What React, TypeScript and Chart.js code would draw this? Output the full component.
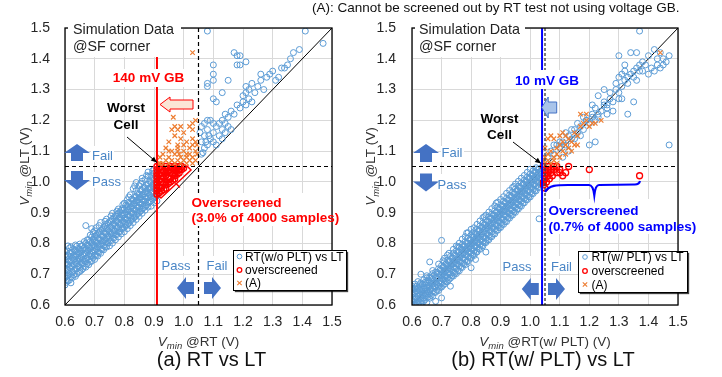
import React, { useEffect, useRef } from 'react';
import { Chart, registerables } from 'chart.js';

Chart.register(...registerables);

const FONT = '"Liberation Sans", Arial, Helvetica, sans-serif';

// ---------- axes ----------
const AXIS_MIN = 0.6;
const AXIS_MAX = 1.5;
const TICK_STEP = 0.1;
const PASS_LEVEL = 1.05; // LT pass/fail voltage
const LEFT_GB_X = 0.91; // 140 mV guard band
const RIGHT_GB_X = 1.04; // 10 mV guard band
const LEFT_GB_TOP = 1.41;

// ---------- (a) RT (w/o PLT) vs LT ----------
const leftBandColumns: [number, number[]][] = [
  [0.60, [0.665, 0.688, 0.702, 0.721, 0.733, 0.745, 0.762, 0.774]],
  [0.605, [0.674, 0.695, 0.716, 0.738, 0.757]],
  [0.61, [0.678, 0.697, 0.712, 0.731, 0.748, 0.761, 0.792]],
  [0.615, [0.681, 0.703, 0.722, 0.744, 0.768, 0.785]],
  [0.62, [0.672, 0.691, 0.719, 0.728, 0.741, 0.758, 0.771, 0.789]],
  [0.625, [0.689, 0.708, 0.727, 0.752, 0.772]],
  [0.63, [0.698, 0.712, 0.731, 0.749, 0.762, 0.781]],
  [0.635, [0.693, 0.717, 0.739, 0.758, 0.776, 0.795]],
  [0.64, [0.701, 0.718, 0.733, 0.744, 0.761, 0.772, 0.791]],
  [0.645, [0.706, 0.727, 0.748, 0.767, 0.784]],
  [0.65, [0.709, 0.722, 0.741, 0.752, 0.769, 0.781, 0.798]],
  [0.655, [0.713, 0.736, 0.757, 0.774, 0.792]],
  [0.66, [0.718, 0.733, 0.748, 0.762, 0.779, 0.793]],
  [0.665, [0.726, 0.744, 0.766, 0.785, 0.806]],
  [0.67, [0.723, 0.741, 0.752, 0.769, 0.781, 0.801, 0.858]],
  [0.675, [0.734, 0.753, 0.774, 0.795, 0.812]],
  [0.68, [0.731, 0.748, 0.762, 0.778, 0.791, 0.812]],
  [0.685, [0.741, 0.765, 0.784, 0.806, 0.827]],
  [0.69, [0.742, 0.758, 0.771, 0.789, 0.802, 0.821, 0.848]],
  [0.695, [0.753, 0.774, 0.795, 0.814, 0.836]],
  [0.70, [0.748, 0.762, 0.779, 0.792, 0.811, 0.823, 0.841]],
  [0.705, [0.761, 0.783, 0.804, 0.826, 0.851]],
  [0.71, [0.759, 0.772, 0.789, 0.802, 0.818, 0.832]],
  [0.715, [0.771, 0.794, 0.815, 0.836, 0.858]],
  [0.72, [0.768, 0.781, 0.798, 0.811, 0.829, 0.842, 0.868]],
  [0.725, [0.781, 0.803, 0.824, 0.846]],
  [0.73, [0.779, 0.792, 0.808, 0.822, 0.838, 0.851]],
  [0.735, [0.789, 0.812, 0.834, 0.856, 0.872]],
  [0.74, [0.788, 0.801, 0.819, 0.831, 0.848, 0.862, 0.879]],
  [0.745, [0.801, 0.823, 0.844, 0.866]],
  [0.75, [0.792, 0.809, 0.823, 0.838, 0.852, 0.871]],
  [0.755, [0.809, 0.831, 0.853, 0.874, 0.889]],
  [0.76, [0.801, 0.818, 0.832, 0.849, 0.861, 0.879, 0.898]],
  [0.765, [0.818, 0.841, 0.863, 0.884]],
  [0.77, [0.812, 0.828, 0.841, 0.858, 0.872, 0.889]],
  [0.775, [0.829, 0.851, 0.873, 0.894, 0.905]],
  [0.78, [0.821, 0.837, 0.852, 0.868, 0.881, 0.898, 0.912]],
  [0.785, [0.838, 0.861, 0.883, 0.903]],
  [0.79, [0.831, 0.848, 0.861, 0.878, 0.892, 0.908]],
  [0.795, [0.849, 0.871, 0.892, 0.914, 0.926]],
  [0.80, [0.838, 0.852, 0.869, 0.882, 0.899, 0.912, 0.931]],
  [0.805, [0.858, 0.879, 0.902, 0.924]],
  [0.81, [0.848, 0.861, 0.878, 0.892, 0.908, 0.921, 0.942]],
  [0.815, [0.866, 0.889, 0.911, 0.933, 0.951]],
  [0.82, [0.858, 0.872, 0.888, 0.901, 0.918, 0.932, 0.958]],
  [0.825, [0.878, 0.899, 0.922, 0.944]],
  [0.83, [0.868, 0.881, 0.898, 0.912, 0.928, 0.941, 0.978]],
  [0.835, [0.886, 0.908, 0.931, 0.952, 0.987]],
  [0.84, [0.878, 0.891, 0.908, 0.921, 0.938, 0.951, 0.972, 0.998]],
  [0.845, [0.897, 0.918, 0.941, 0.962]],
  [0.85, [0.888, 0.901, 0.918, 0.932, 0.948, 0.961, 0.988]],
  [0.855, [0.905, 0.928, 0.951, 0.973, 0.994]],
  [0.86, [0.898, 0.912, 0.928, 0.941, 0.958, 0.972, 1.002, 1.012]],
  [0.865, [0.916, 0.938, 0.961, 0.982]],
  [0.87, [0.908, 0.921, 0.938, 0.951, 0.968, 0.981, 1.008]],
  [0.875, [0.924, 0.947, 0.969, 0.991, 1.021]],
  [0.88, [0.918, 0.931, 0.948, 0.962, 0.978, 0.992, 1.018, 1.032]],
  [0.885, [0.935, 0.957, 0.979, 1.002]],
  [0.89, [0.921, 0.938, 0.952, 0.968, 0.982, 0.998, 1.021]],
  [0.895, [0.944, 0.966, 0.988, 1.011, 1.036]],
  [0.90, [0.932, 0.948, 0.961, 0.978, 0.992, 1.008, 1.028, 1.041]],
  [0.905, [0.952, 0.975, 0.996, 1.018]],
  [0.91, [0.938, 0.955, 0.968, 0.985, 0.998, 1.015]],
];

const leftUpperBlue: [number, number][] = [
  [1.06, 1.09], [1.07, 1.11], [1.06, 1.13], [1.08, 1.12], [1.07, 1.15], [1.09, 1.14],
  [1.08, 1.17], [1.10, 1.13], [1.10, 1.16], [1.11, 1.12], [1.11, 1.18], [1.12, 1.15],
  [1.12, 1.19], [1.13, 1.14], [1.13, 1.17], [1.14, 1.16], [1.14, 1.19], [1.15, 1.18],
  [1.16, 1.17], [1.10, 1.19], [1.09, 1.20], [1.08, 1.20], [1.13, 1.20], [1.07, 1.19],
  [1.06, 1.18], [1.055, 1.16], [1.15, 1.21], [1.14, 1.22], [1.16, 1.23], [1.17, 1.22],
  [1.18, 1.25], [1.19, 1.24], [1.20, 1.26], [1.21, 1.25], [1.22, 1.27], [1.23, 1.26],
  [1.20, 1.28], [1.24, 1.29], [1.22, 1.30], [1.21, 1.31], [1.23, 1.32], [1.21, 1.29],
  [1.10, 1.27], [1.11, 1.26], [1.13, 1.29], [1.08, 1.31], [1.08, 1.32], [1.15, 1.33],
  [1.10, 1.33], [1.10, 1.35], [1.10, 1.38], [1.08, 1.49], [1.17, 1.42], [1.18, 1.41],
  [1.19, 1.41], [1.21, 1.39], [1.18, 1.38], [1.19, 1.38], [1.26, 1.33], [1.26, 1.35],
  [1.28, 1.34], [1.29, 1.35], [1.30, 1.36], [1.31, 1.33], [1.32, 1.34], [1.33, 1.37],
  [1.34, 1.37], [1.35, 1.38], [1.36, 1.40], [1.37, 1.42], [1.39, 1.43], [1.25, 1.31],
  [1.27, 1.30], [1.41, 1.49], [1.47, 1.45], [1.065, 1.095], [1.075, 1.13], [1.085, 1.15],
];

const leftOverscreenedColumns: [number, number[]][] = [
  [0.910, [0.96, 0.97, 0.98, 0.99, 1.00, 1.01, 1.02, 1.03, 1.04, 1.05]],
  [0.917, [0.965, 0.985, 1.005, 1.025, 1.045]],
  [0.925, [0.97, 0.98, 1.00, 1.01, 1.02, 1.03, 1.04, 1.05]],
  [0.933, [0.975, 0.995, 1.015, 1.035]],
  [0.940, [0.98, 0.99, 1.00, 1.02, 1.03, 1.04, 1.05]],
  [0.948, [0.995, 1.015, 1.035, 1.045]],
  [0.955, [1.00, 1.01, 1.03, 1.04, 1.05]],
  [0.963, [1.005, 1.025, 1.045]],
  [0.970, [1.01, 1.02, 1.03, 1.04, 1.05]],
  [0.978, [1.025, 1.045]],
  [0.985, [1.03, 1.04, 1.05]],
  [0.993, [1.04, 1.05]],
  [1.000, [1.045]],
];

const leftTypeA: [number, number][] = [
  [0.92, 1.06], [0.93, 1.06], [0.94, 1.07], [0.95, 1.06], [0.96, 1.07], [0.97, 1.06],
  [0.98, 1.07], [0.99, 1.06], [1.00, 1.07], [1.01, 1.06], [1.02, 1.07], [1.03, 1.06],
  [1.04, 1.07], [0.95, 1.08], [0.97, 1.09], [0.99, 1.08], [1.01, 1.09], [1.03, 1.08],
  [1.045, 1.09], [0.96, 1.10], [0.98, 1.11], [1.00, 1.10], [1.02, 1.11], [1.04, 1.10],
  [0.93, 1.09], [0.94, 1.11], [0.95, 1.13], [0.95, 1.10], [0.98, 1.12], [0.98, 1.10],
  [1.03, 1.12], [1.04, 1.13], [1.03, 1.14], [1.01, 1.13], [0.99, 1.14], [0.97, 1.15],
  [0.96, 1.17], [0.97, 1.18], [0.98, 1.17], [0.99, 1.18], [1.02, 1.18], [1.03, 1.19],
  [1.04, 1.20], [1.03, 1.17], [0.965, 1.21], [1.00, 1.16], [0.92, 1.08], [1.045, 1.12],
  [1.02, 1.09], [1.00, 1.12], [1.03, 1.42], [0.915, 1.06], [1.01, 1.08], [0.985, 1.09],
];

// ---------- (b) RT (w/ PLT) vs LT ----------
const rightBandColumns: [number, number[]][] = [
  [0.60, [0.600, 0.612, 0.625, 0.634, 0.648, 0.661]],
  [0.605, [0.603, 0.619, 0.638, 0.652]],
  [0.61, [0.604, 0.618, 0.627, 0.641, 0.655, 0.668]],
  [0.615, [0.607, 0.624, 0.646, 0.661]],
  [0.62, [0.601, 0.613, 0.629, 0.637, 0.652, 0.676]],
  [0.625, [0.609, 0.631, 0.649, 0.666]],
  [0.63, [0.606, 0.621, 0.634, 0.643, 0.658, 0.672, 0.700]],
  [0.635, [0.614, 0.632, 0.651, 0.668]],
  [0.64, [0.612, 0.624, 0.639, 0.651, 0.663, 0.682]],
  [0.645, [0.618, 0.638, 0.656, 0.674]],
  [0.65, [0.608, 0.631, 0.645, 0.656, 0.671, 0.688, 0.695]],
  [0.655, [0.626, 0.643, 0.664, 0.681]],
  [0.66, [0.622, 0.636, 0.649, 0.662, 0.676, 0.691, 0.740]],
  [0.665, [0.631, 0.652, 0.671, 0.688]],
  [0.67, [0.628, 0.644, 0.657, 0.668, 0.683, 0.702, 0.712]],
  [0.675, [0.641, 0.661, 0.679, 0.697]],
  [0.68, [0.612, 0.641, 0.659, 0.674, 0.688, 0.707]],
  [0.685, [0.648, 0.667, 0.686, 0.706]],
  [0.69, [0.647, 0.661, 0.672, 0.689, 0.701, 0.718, 0.733]],
  [0.695, [0.657, 0.678, 0.696, 0.714]],
  [0.70, [0.623, 0.658, 0.671, 0.686, 0.697, 0.713, 0.728, 0.810]],
  [0.705, [0.664, 0.684, 0.703, 0.723, 0.744]],
  [0.71, [0.668, 0.679, 0.694, 0.709, 0.722, 0.741, 0.752]],
  [0.715, [0.676, 0.694, 0.713, 0.733]],
  [0.72, [0.676, 0.688, 0.703, 0.716, 0.731, 0.745, 0.762]],
  [0.725, [0.683, 0.704, 0.722, 0.742, 0.768]],
  [0.73, [0.661, 0.687, 0.699, 0.717, 0.728, 0.742, 0.758]],
  [0.735, [0.694, 0.713, 0.733, 0.751]],
  [0.74, [0.694, 0.706, 0.722, 0.738, 0.751, 0.769, 0.781]],
  [0.745, [0.703, 0.721, 0.742, 0.761]],
  [0.75, [0.702, 0.718, 0.733, 0.747, 0.761, 0.776, 0.792]],
  [0.755, [0.712, 0.732, 0.751, 0.772, 0.789]],
  [0.76, [0.711, 0.727, 0.741, 0.756, 0.772, 0.788, 0.801]],
  [0.765, [0.722, 0.741, 0.762, 0.781]],
  [0.77, [0.722, 0.736, 0.752, 0.767, 0.781, 0.796, 0.814]],
  [0.775, [0.733, 0.752, 0.771, 0.791]],
  [0.78, [0.731, 0.746, 0.763, 0.778, 0.792, 0.806, 0.822]],
  [0.785, [0.741, 0.762, 0.781, 0.801, 0.834]],
  [0.79, [0.742, 0.757, 0.771, 0.786, 0.801, 0.817, 0.835]],
  [0.795, [0.752, 0.772, 0.791, 0.812]],
  [0.80, [0.721, 0.752, 0.768, 0.782, 0.797, 0.812, 0.828, 0.846]],
  [0.805, [0.762, 0.781, 0.802, 0.821]],
  [0.81, [0.761, 0.776, 0.791, 0.806, 0.822, 0.838, 0.851]],
  [0.815, [0.748, 0.771, 0.792, 0.811, 0.831]],
  [0.82, [0.772, 0.787, 0.802, 0.817, 0.831, 0.846, 0.862]],
  [0.825, [0.782, 0.801, 0.822, 0.841]],
  [0.83, [0.781, 0.796, 0.812, 0.826, 0.842, 0.857, 0.873]],
  [0.835, [0.791, 0.812, 0.831, 0.852]],
  [0.84, [0.792, 0.806, 0.821, 0.837, 0.852, 0.866, 0.884]],
  [0.845, [0.802, 0.821, 0.842, 0.861, 0.887]],
  [0.85, [0.772, 0.803, 0.817, 0.832, 0.848, 0.861, 0.877, 0.892]],
  [0.855, [0.811, 0.832, 0.851, 0.872]],
  [0.86, [0.812, 0.826, 0.842, 0.857, 0.871, 0.887, 0.902]],
  [0.865, [0.822, 0.841, 0.862, 0.881]],
  [0.87, [0.822, 0.838, 0.851, 0.866, 0.882, 0.896, 0.913]],
  [0.875, [0.831, 0.852, 0.871, 0.892]],
  [0.88, [0.831, 0.847, 0.862, 0.877, 0.891, 0.907, 0.922]],
  [0.885, [0.842, 0.861, 0.882, 0.901, 0.931]],
  [0.89, [0.843, 0.857, 0.872, 0.886, 0.902, 0.917, 0.934]],
  [0.895, [0.851, 0.872, 0.891, 0.912]],
  [0.90, [0.852, 0.866, 0.881, 0.897, 0.912, 0.926, 0.943]],
  [0.905, [0.862, 0.881, 0.902, 0.921]],
  [0.91, [0.862, 0.877, 0.892, 0.906, 0.921, 0.937, 0.952]],
  [0.915, [0.871, 0.892, 0.911, 0.932]],
  [0.92, [0.871, 0.887, 0.902, 0.917, 0.932, 0.946, 0.963]],
  [0.925, [0.882, 0.901, 0.922, 0.941]],
  [0.93, [0.882, 0.896, 0.911, 0.927, 0.941, 0.957, 0.972]],
  [0.935, [0.891, 0.912, 0.931, 0.952]],
  [0.94, [0.892, 0.907, 0.922, 0.936, 0.952, 0.966, 0.982]],
  [0.945, [0.902, 0.921, 0.942, 0.961, 0.985]],
  [0.95, [0.901, 0.917, 0.931, 0.947, 0.961, 0.977, 0.993]],
  [0.955, [0.911, 0.932, 0.951, 0.972]],
  [0.96, [0.912, 0.926, 0.942, 0.956, 0.972, 0.986, 1.002]],
  [0.965, [0.922, 0.941, 0.962, 0.981]],
  [0.97, [0.921, 0.937, 0.951, 0.967, 0.981, 0.997, 1.012]],
  [0.975, [0.931, 0.952, 0.971, 0.992]],
  [0.98, [0.932, 0.946, 0.962, 0.976, 0.992, 1.006, 1.021]],
  [0.985, [0.942, 0.961, 0.982, 1.001]],
  [0.99, [0.942, 0.956, 0.971, 0.987, 1.001, 1.016, 1.031]],
  [0.995, [0.951, 0.972, 0.991, 1.012]],
  [1.00, [0.951, 0.967, 0.982, 0.996, 1.012, 1.026, 1.041]],
  [1.005, [0.962, 0.981, 1.002, 1.021]],
  [1.01, [0.962, 0.976, 0.991, 1.007, 1.021, 1.036]],
  [1.015, [0.971, 0.992, 1.011, 1.032]],
  [1.02, [0.971, 0.987, 1.002, 1.016, 1.032, 1.046]],
  [1.025, [0.982, 1.001, 1.022, 1.041]],
  [1.03, [0.880, 0.982, 0.996, 1.012, 1.027, 1.041]],
  [1.035, [0.991, 1.012, 1.031]],
  [1.04, [0.992, 1.006, 1.021, 1.036, 1.048]],
];

const rightUpperBlue: [number, number][] = [
  [1.06, 1.08], [1.07, 1.10], [1.08, 1.09], [1.09, 1.12], [1.10, 1.11], [1.11, 1.13],
  [1.12, 1.12], [1.13, 1.15], [1.14, 1.14], [1.15, 1.17], [1.16, 1.16], [1.17, 1.18],
  [1.18, 1.17], [1.19, 1.20], [1.20, 1.19], [1.21, 1.21], [1.22, 1.20], [1.23, 1.22],
  [1.24, 1.23], [1.25, 1.25], [1.26, 1.24], [1.27, 1.27], [1.28, 1.26], [1.29, 1.30],
  [1.30, 1.29], [1.31, 1.31], [1.32, 1.33], [1.33, 1.32], [1.34, 1.35], [1.35, 1.34],
  [1.36, 1.37], [1.37, 1.36], [1.38, 1.39], [1.39, 1.38], [1.40, 1.41], [1.42, 1.43],
  [1.44, 1.42], [1.17, 1.15], [1.15, 1.14], [1.20, 1.12], [1.22, 1.13], [1.19, 1.20],
  [1.21, 1.22], [1.22, 1.24], [1.23, 1.21], [1.25, 1.26], [1.26, 1.22], [1.26, 1.25],
  [1.27, 1.29], [1.28, 1.23], [1.30, 1.27], [1.31, 1.27], [1.33, 1.22], [1.35, 1.26],
  [1.29, 1.32], [1.30, 1.34], [1.31, 1.35], [1.32, 1.36], [1.33, 1.34], [1.35, 1.36],
  [1.36, 1.33], [1.37, 1.38], [1.38, 1.36], [1.40, 1.35], [1.41, 1.37], [1.42, 1.36],
  [1.43, 1.38], [1.44, 1.37], [1.45, 1.38], [1.45, 1.40], [1.46, 1.39], [1.47, 1.41],
  [1.43, 1.40], [1.37, 1.49], [1.36, 1.42], [1.34, 1.42], [1.32, 1.38], [1.30, 1.41],
  [1.47, 1.12], [1.25, 1.30], [1.23, 1.28], [1.21, 1.25], [1.18, 1.21], [1.16, 1.19],
  [1.14, 1.17], [1.12, 1.16], [1.10, 1.13], [1.08, 1.12], [1.13, 1.10], [1.11, 1.08],
];

const rightOverscreened: [number, number][] = [
  [1.045, 1.05], [1.05, 1.04], [1.05, 1.03], [1.05, 1.02], [1.05, 1.01], [1.045, 1.00],
  [1.045, 0.99], [1.06, 1.04], [1.06, 1.03], [1.06, 1.02], [1.06, 1.05], [1.07, 1.04],
  [1.07, 1.03], [1.08, 1.04], [1.08, 1.05], [1.09, 1.03], [1.10, 1.04], [1.10, 1.03],
  [1.11, 1.02], [1.12, 1.03], [1.13, 1.05], [1.05, 0.98], [1.065, 1.01], [1.09, 1.05],
  [1.20, 1.04], [1.37, 1.02], [1.055, 1.00], [1.075, 1.02],
];

const rightTypeA: [number, number][] = [
  [1.05, 1.06], [1.06, 1.07], [1.07, 1.06], [1.08, 1.08], [1.05, 1.08], [1.06, 1.09],
  [1.07, 1.10], [1.08, 1.07], [1.09, 1.09], [1.10, 1.08], [1.11, 1.10], [1.12, 1.09],
  [1.09, 1.11], [1.10, 1.12], [1.11, 1.13], [1.12, 1.12], [1.13, 1.11], [1.14, 1.13],
  [1.13, 1.14], [1.12, 1.15], [1.11, 1.16], [1.06, 1.14], [1.07, 1.15], [1.08, 1.14],
  [1.10, 1.15], [1.15, 1.16], [1.16, 1.15], [1.17, 1.18], [1.18, 1.19], [1.19, 1.20],
  [1.20, 1.18], [1.21, 1.19], [1.22, 1.19], [1.24, 1.20], [1.17, 1.22], [1.19, 1.22],
  [1.045, 1.07], [1.05, 1.11], [1.09, 1.06], [1.14, 1.10], [1.15, 1.12], [1.16, 1.12],
  [1.44, 1.42],
];

// ---------- texts ----------
const NOTE_TEXT = '(A): Cannot be screened out by RT test not using voltage GB.';
const LEFT_LEGEND = ['RT(w/o PLT) vs LT', 'overscreened', '(A)'];
const RIGHT_LEGEND = ['RT(w/ PLT) vs LT', 'overscreened', '(A)'];

// ---------- colours ----------
const BLUE = '#5B9BD5';
const RED = '#FF0000';
const ORANGE = '#ED7D31';
const ARROW_BLUE = '#4472C4';
const TEXT_BLUE = '#4A86C6';

type Pt = { x: number; y: number };
const fromColumns = (c: [number, number[]][]): Pt[] =>
  c.flatMap(([x, ys]) => ys.map((y) => ({ x, y })));
const fromPairs = (p: [number, number][]): Pt[] => p.map(([x, y]) => ({ x, y }));

// ---------- drawing helpers ----------
function txt(ctx: any, s: string, x: number, y: number, font: string, color: string, align: any = 'left') {
  ctx.font = font;
  ctx.textAlign = align;
  ctx.textBaseline = 'alphabetic';
  ctx.fillStyle = color;
  ctx.fillText(s, x, y);
}
function whiteBox(ctx: any, x: number, y: number, w: number, h: number) {
  ctx.fillStyle = '#fff';
  ctx.fillRect(x, y, w, h);
}
function seg(ctx: any, x1: number, y1: number, x2: number, y2: number, color: string, lw: number, dash: number[] = []) {
  ctx.save();
  ctx.strokeStyle = color;
  ctx.lineWidth = lw;
  ctx.setLineDash(dash);
  ctx.beginPath();
  ctx.moveTo(x1, y1);
  ctx.lineTo(x2, y2);
  ctx.stroke();
  ctx.restore();
}
function blockArrow(ctx: any, cx: number, cy: number, len: number, wid: number, head: number, stem: number,
  angle: number, fill: string, stroke?: string) {
  const t = len / 2;
  const pts = [[t, 0], [t - head, -wid / 2], [t - head, -stem / 2], [-t, -stem / 2], [-t, stem / 2],
    [t - head, stem / 2], [t - head, wid / 2]];
  ctx.save();
  ctx.translate(cx, cy);
  ctx.rotate(angle);
  ctx.beginPath();
  pts.forEach(([u, v], i) => (i ? ctx.lineTo(u, v) : ctx.moveTo(u, v)));
  ctx.closePath();
  ctx.fillStyle = fill;
  ctx.fill();
  if (stroke) {
    ctx.strokeStyle = stroke;
    ctx.lineWidth = 1;
    ctx.stroke();
  }
  ctx.restore();
}
function pointerArrow(ctx: any, x1: number, y1: number, x2: number, y2: number) {
  seg(ctx, x1, y1, x2, y2, '#000', 1);
  const a = Math.atan2(y2 - y1, x2 - x1);
  const L = 6, W = 2.6;
  ctx.fillStyle = '#000';
  ctx.beginPath();
  ctx.moveTo(x2, y2);
  ctx.lineTo(x2 - L * Math.cos(a) + W * Math.sin(a), y2 - L * Math.sin(a) - W * Math.cos(a));
  ctx.lineTo(x2 - L * Math.cos(a) - W * Math.sin(a), y2 - L * Math.sin(a) + W * Math.cos(a));
  ctx.closePath();
  ctx.fill();
}
function vminTitle(ctx: any, rest: string, cx: number, cy: number, rotate: boolean) {
  const fMain = `italic 13.5px ${FONT}`;
  const fSub = `italic 9.5px ${FONT}`;
  const fRest = `13.5px ${FONT}`;
  ctx.save();
  ctx.translate(cx, cy);
  if (rotate) ctx.rotate(-Math.PI / 2);
  ctx.font = fMain; const wV = ctx.measureText('V').width;
  ctx.font = fSub; const wM = ctx.measureText('min').width;
  ctx.font = fRest; const wR = ctx.measureText(rest).width;
  let x = -(wV + wM + wR) / 2;
  txt(ctx, 'V', x, 0, fMain, '#333');
  x += wV;
  txt(ctx, 'min', x, 3.5, fSub, '#333');
  x += wM;
  txt(ctx, rest, x, 0, fRest, '#333');
  ctx.restore();
}
function legendBox(ctx: any, x: number, y: number, w: number, h: number, mx: number, tx: number,
  labels: string[], base: number[]) {
  ctx.save();
  ctx.shadowColor = 'rgba(0,0,0,0.75)';
  ctx.shadowOffsetX = 2;
  ctx.shadowOffsetY = 2;
  ctx.shadowBlur = 1;
  ctx.fillStyle = '#fff';
  ctx.fillRect(x, y, w, h);
  ctx.restore();
  ctx.strokeStyle = '#000';
  ctx.lineWidth = 1;
  ctx.strokeRect(x + 0.5, y + 0.5, w, h);
  const f = `12px ${FONT}`;
  labels.forEach((s, i) => {
    const my = base[i] - 4;
    ctx.lineWidth = i === 1 ? 1.3 : 1;
    if (i < 2) {
      ctx.strokeStyle = i === 0 ? BLUE : RED;
      ctx.beginPath();
      ctx.arc(mx, my, 2.3, 0, Math.PI * 2);
      ctx.stroke();
    } else {
      seg(ctx, mx - 2.2, my - 2.2, mx + 2.2, my + 2.2, ORANGE, 1.1);
      seg(ctx, mx - 2.2, my + 2.2, mx + 2.2, my - 2.2, ORANGE, 1.1);
    }
    txt(ctx, s, tx, base[i], f, '#000');
  });
}

const BOLD = `bold 13.5px ${FONT}`;
const SIM = `14.3px ${FONT}`;
const PF = `13px ${FONT}`;

// ---------- panel drawings ----------
function drawLeft(ctx: any, X: (v: number) => number, Y: (v: number) => number, a: any) {
  const yPass = Y(PASS_LEVEL);
  const xPass = X(PASS_LEVEL);
  seg(ctx, a.left, yPass, a.right, yPass, '#000', 1.2, [4, 3]);
  seg(ctx, xPass, a.top, xPass, a.bottom, '#000', 1.2, [4, 3]);
  seg(ctx, X(LEFT_GB_X), Y(LEFT_GB_TOP), X(LEFT_GB_X), a.bottom, RED, 2);
  // white backgrounds
  whiteBox(ctx, 189, 193, a.right - 189, 33);
  whiteBox(ctx, 160, 256, 32, 17);
  whiteBox(ctx, 205, 256, 26, 17);
  whiteBox(ctx, 91, 146, 23, 16);
  whiteBox(ctx, 91, 172, 31, 16);
  whiteBox(ctx, 110, 69, 77, 18);
  // frame
  ctx.strokeStyle = '#000';
  ctx.lineWidth = 1.3;
  ctx.strokeRect(a.left, a.top, a.right - a.left, a.bottom - a.top);
  whiteBox(ctx, 68, 19, 113, 38);
  txt(ctx, 'Simulation Data', 73, 33.5, SIM, '#222');
  txt(ctx, '@SF corner', 73, 51, SIM, '#222');
  txt(ctx, '140 mV GB', 148.5, 82, BOLD, RED, 'center');
  blockArrow(ctx, 176.5, 104.5, 33, 15, 10, 9, Math.PI, '#FBE5D6', RED);
  txt(ctx, 'Worst', 126, 112, BOLD, '#000', 'center');
  txt(ctx, 'Cell', 126, 128.5, BOLD, '#000', 'center');
  pointerArrow(ctx, 127, 137, X(LEFT_GB_X), yPass - 4);
  blockArrow(ctx, 77, 152.5, 17, 26, 9, 12, -Math.PI / 2, ARROW_BLUE);
  blockArrow(ctx, 77, 180.5, 19, 26, 10, 12, Math.PI / 2, ARROW_BLUE);
  txt(ctx, 'Fail', 92, 160, PF, TEXT_BLUE);
  txt(ctx, 'Pass', 92, 185.5, PF, TEXT_BLUE);
  // overscreened bracket
  ctx.strokeStyle = RED;
  ctx.lineWidth = 1.5;
  ctx.beginPath();
  ctx.moveTo(157, 194); ctx.lineTo(187, 166); ctx.lineTo(191, 170); ctx.lineTo(161, 198); ctx.closePath();
  ctx.stroke();
  seg(ctx, 175.5, 183, 180, 187.5, RED, 1.5);
  txt(ctx, 'Overscreened', 191.5, 206.5, BOLD, RED);
  txt(ctx, '(3.0% of 4000 samples)', 191.5, 222, BOLD, RED);
  txt(ctx, 'Pass', 161.5, 270, PF, TEXT_BLUE);
  txt(ctx, 'Fail', 206.5, 270, PF, TEXT_BLUE);
  blockArrow(ctx, 185.5, 288, 17, 22, 9, 12, Math.PI, ARROW_BLUE);
  blockArrow(ctx, 212.5, 288, 17, 22, 9, 12, 0, ARROW_BLUE);
  legendBox(ctx, 233, 250, 113, 40, 239.5, 245, LEFT_LEGEND, [260.5, 274, 287]);
  vminTitle(ctx, ' @RT (V)', (a.left + a.right) / 2, 345.5, false);
  vminTitle(ctx, ' @LT (V)', 28.5, (a.top + a.bottom) / 2, true);
  txt(ctx, '(a) RT vs LT', 211.5, 366, `20px ${FONT}`, '#111', 'center');
}

function drawRight(ctx: any, X: (v: number) => number, Y: (v: number) => number, a: any) {
  const yPass = Y(PASS_LEVEL);
  const xPass = X(PASS_LEVEL);
  seg(ctx, a.left, yPass, a.right, yPass, '#000', 1.2, [4, 3]);
  seg(ctx, xPass, a.top, xPass, a.bottom, '#444', 1.4, [3, 2]);
  seg(ctx, X(RIGHT_GB_X), a.top, X(RIGHT_GB_X), a.bottom, '#0000FF', 2);
  whiteBox(ctx, 547, 199, a.right - 547, 35);
  whiteBox(ctx, 501, 256, 32, 17);
  whiteBox(ctx, 550, 256, 26, 17);
  whiteBox(ctx, 441, 146, 23, 16);
  whiteBox(ctx, 437, 174, 31, 16);
  whiteBox(ctx, 509, 70, 78, 19);
  ctx.strokeStyle = '#000';
  ctx.lineWidth = 1.3;
  ctx.strokeRect(a.left, a.top, a.right - a.left, a.bottom - a.top);
  whiteBox(ctx, 415, 19, 110, 38);
  txt(ctx, 'Simulation Data', 419, 33.5, SIM, '#222');
  txt(ctx, '@SF corner', 419, 51, SIM, '#222');
  txt(ctx, '10 mV GB', 547, 85, BOLD, '#0000FF', 'center');
  blockArrow(ctx, 549.2, 107.5, 15, 21, 6.5, 11, Math.PI, '#A9C4EA', ARROW_BLUE);
  txt(ctx, 'Worst', 499.5, 122.5, BOLD, '#000', 'center');
  txt(ctx, 'Cell', 499.5, 138.5, BOLD, '#000', 'center');
  pointerArrow(ctx, 513, 142, X(RIGHT_GB_X) - 1, yPass - 3);
  blockArrow(ctx, 426, 153, 18, 26, 9, 12, -Math.PI / 2, ARROW_BLUE);
  blockArrow(ctx, 426, 182.5, 18, 26, 10, 12, Math.PI / 2, ARROW_BLUE);
  txt(ctx, 'Fail', 441.5, 157, PF, TEXT_BLUE);
  txt(ctx, 'Pass', 437.5, 189, PF, TEXT_BLUE);
  // curly brace
  ctx.strokeStyle = '#0000FF';
  ctx.lineWidth = 2.2;
  ctx.beginPath();
  ctx.moveTo(545, 192);
  ctx.bezierCurveTo(549, 185, 557, 185, 568, 185);
  ctx.lineTo(589, 185);
  ctx.quadraticCurveTo(593, 185, 594.3, 195);
  ctx.quadraticCurveTo(595.5, 185, 599, 185);
  ctx.lineTo(635, 184.5);
  ctx.quadraticCurveTo(639, 184.5, 640, 181);
  ctx.stroke();
  txt(ctx, 'Overscreened', 548.5, 214.5, BOLD, '#0000FF');
  txt(ctx, '(0.7% of 4000 samples)', 548.5, 230.5, BOLD, '#0000FF');
  txt(ctx, 'Pass', 502.5, 270.5, PF, TEXT_BLUE);
  txt(ctx, 'Fail', 551, 270.5, PF, TEXT_BLUE);
  blockArrow(ctx, 530.3, 289, 17, 22, 9, 12, Math.PI, ARROW_BLUE);
  blockArrow(ctx, 556.5, 289, 17, 22, 9, 12, 0, ARROW_BLUE);
  legendBox(ctx, 578, 251, 109, 41, 585, 591.5, RIGHT_LEGEND, [261, 275, 288.5]);
  vminTitle(ctx, ' @RT(w/ PLT) (V)', (a.left + a.right) / 2, 345.5, false);
  vminTitle(ctx, ' @LT (V)', 375, (a.top + a.bottom) / 2, true);
  txt(ctx, '(b) RT(w/ PLT) vs LT', 543, 366, `20px ${FONT}`, '#111', 'center');
  txt(ctx, NOTE_TEXT, 312, 11.5, `13.5px ${FONT}`, '#111');
}

function makeChart(canvas: HTMLCanvasElement, cfg: any) {
  const tickFont = { family: FONT, size: 14 };
  const tickCb = (v: any) => Number(v).toFixed(1);
  return new Chart(canvas, {
    type: 'scatter',
    data: {
      datasets: [
        {
          label: 'diagonal',
          data: [{ x: AXIS_MIN, y: AXIS_MIN }, { x: AXIS_MAX, y: AXIS_MAX }],
          showLine: true, borderColor: '#000', borderWidth: 1, pointRadius: 0, order: 3,
        },
        {
          label: cfg.legend[0], data: cfg.blue, pointStyle: 'circle', pointRadius: 3,
          borderColor: BLUE, backgroundColor: 'rgba(255,255,255,0)', borderWidth: 1, order: 2,
        },
        {
          label: cfg.legend[1], data: cfg.red, pointStyle: 'circle', pointRadius: 3,
          borderColor: RED, backgroundColor: 'rgba(255,255,255,0)', borderWidth: 1.3, order: 1,
        },
        {
          label: cfg.legend[2], data: cfg.orange, pointStyle: 'crossRot', pointRadius: 3.2,
          borderColor: ORANGE, backgroundColor: ORANGE, borderWidth: 1.2, order: 0,
        },
      ],
    },
    options: {
      responsive: false,
      animation: false,
      events: [],
      layout: { padding: { left: cfg.padLeft, right: cfg.padRight, top: 28, bottom: 0 } },
      plugins: { legend: { display: false }, tooltip: { enabled: false }, title: { display: false } },
      scales: {
        x: {
          type: 'linear', min: AXIS_MIN, max: AXIS_MAX,
          ticks: { stepSize: TICK_STEP, padding: 9, color: '#262626', font: tickFont, callback: tickCb, maxRotation: 0, autoSkip: false },
          grid: { color: '#d9d9d9', drawTicks: false, lineWidth: 1 },
          border: { display: false },
          afterFit: (s: any) => { s.height = 72; },
        },
        y: {
          type: 'linear', min: AXIS_MIN, max: AXIS_MAX,
          ticks: { stepSize: TICK_STEP, padding: cfg.yPad, color: '#262626', font: tickFont, callback: tickCb, autoSkip: false },
          grid: { color: '#d9d9d9', drawTicks: false, lineWidth: 1 },
          border: { display: false },
          afterFit: (s: any) => { s.width = cfg.yWidth; },
        },
      },
    },
    plugins: [
      {
        id: 'annotations',
        afterDraw(chart: any) {
          const ctx = chart.ctx;
          const X = (v: number) => chart.scales.x.getPixelForValue(v);
          const Y = (v: number) => chart.scales.y.getPixelForValue(v);
          ctx.save();
          cfg.draw(ctx, X, Y, chart.chartArea);
          ctx.restore();
        },
      },
    ],
  } as any);
}

export default function App() {
  const leftRef = useRef<HTMLCanvasElement>(null);
  const rightRef = useRef<HTMLCanvasElement>(null);
  useEffect(() => {
    const c1 = makeChart(leftRef.current!, {
      padLeft: 0, padRight: 390, yWidth: 65, yPad: 15, legend: LEFT_LEGEND,
      blue: [...fromColumns(leftBandColumns), ...fromPairs(leftUpperBlue)],
      red: fromColumns(leftOverscreenedColumns),
      orange: fromPairs(leftTypeA),
      draw: drawLeft,
    });
    const c2 = makeChart(rightRef.current!, {
      padLeft: 361, padRight: 44, yWidth: 51, yPad: 16, legend: RIGHT_LEGEND,
      blue: [...fromColumns(rightBandColumns), ...fromPairs(rightUpperBlue)],
      red: fromPairs(rightOverscreened),
      orange: fromPairs(rightTypeA),
      draw: drawRight,
    });
    return () => { c1.destroy(); c2.destroy(); };
  }, []);
  const cs: React.CSSProperties = { position: 'absolute', left: 0, top: 0, display: 'block' };
  return (
    <div style={{ position: 'fixed', left: 0, top: 0, width: 722, height: 377, background: '#fff', overflow: 'hidden' }}>
      <canvas ref={leftRef} width={722} height={377} style={cs} />
      <canvas ref={rightRef} width={722} height={377} style={cs} />
    </div>
  );
}
